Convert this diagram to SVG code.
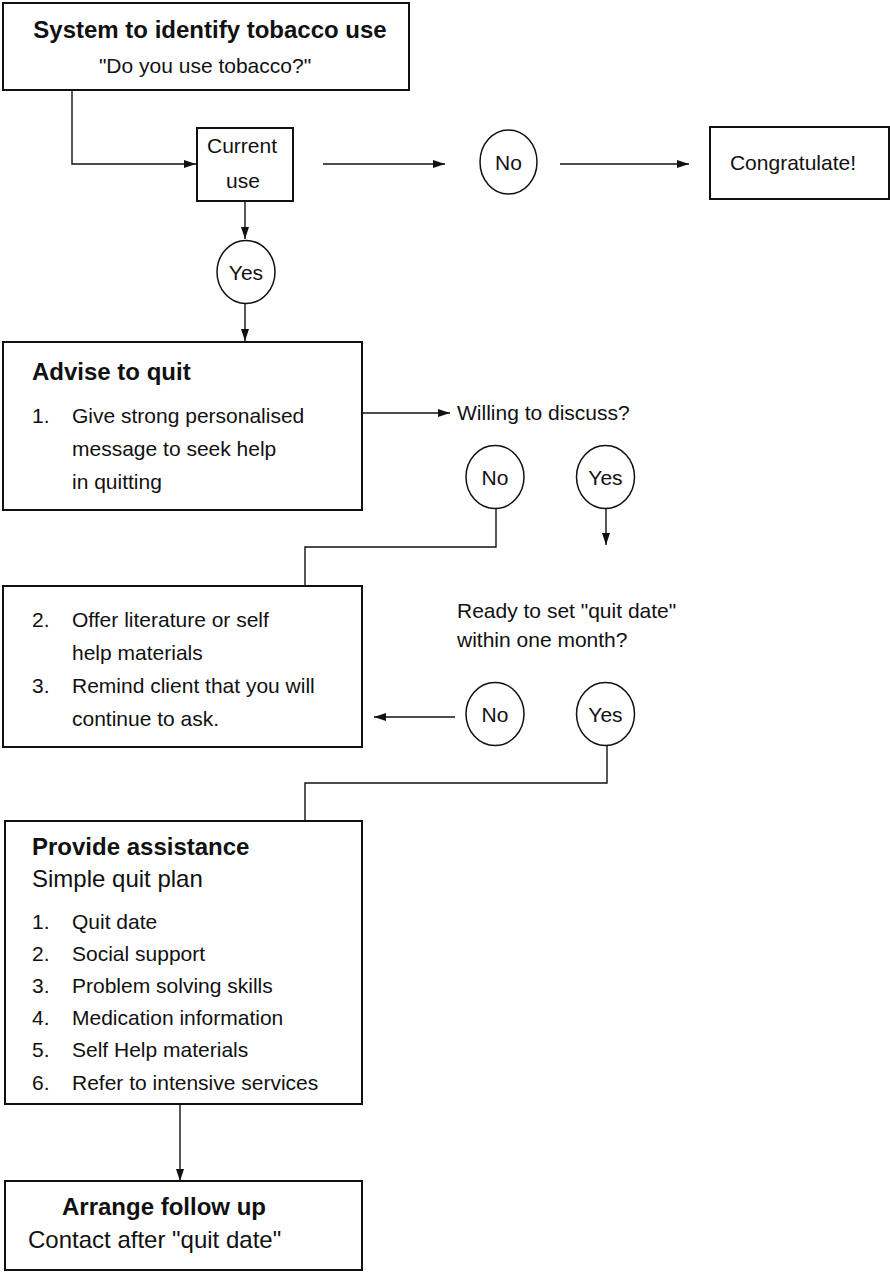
<svg xmlns="http://www.w3.org/2000/svg" width="890" height="1288" viewBox="0 0 890 1288">
<defs>
<style>
text{font-family:"Liberation Sans",Arial,sans-serif;fill:#111}
.b{font-weight:bold;font-size:24px}
.r{font-size:21px}
.l{font-size:24px}
.box{fill:#fff;stroke:#111;stroke-width:2}
.c{fill:#fff;stroke:#111;stroke-width:1.5}
.ln{fill:none;stroke:#111;stroke-width:1.4}
.m{text-anchor:middle}
</style>
<marker id="ah" markerUnits="userSpaceOnUse" markerWidth="13" markerHeight="9" refX="12" refY="4" orient="auto">
<path d="M0,0 L12,4 L0,8 z" fill="#111"/>
</marker>
</defs>
<rect width="890" height="1288" fill="#fff"/>
<g id="connectors">
<polyline class="ln" points="72,90 72,164 196,164" marker-end="url(#ah)"/>
<line class="ln" x1="245" y1="201" x2="245" y2="239" marker-end="url(#ah)"/>
<line class="ln" x1="245" y1="303" x2="245" y2="341" marker-end="url(#ah)"/>
<line class="ln" x1="323" y1="164" x2="445" y2="164" marker-end="url(#ah)"/>
<line class="ln" x1="560" y1="164" x2="689" y2="164" marker-end="url(#ah)"/>
<line class="ln" x1="362" y1="413" x2="450" y2="413" marker-end="url(#ah)"/>
<polyline class="ln" points="496,508 496,547 305,547 305,586"/>
<line class="ln" x1="606" y1="508" x2="606" y2="545" marker-end="url(#ah)"/>
<line class="ln" x1="455" y1="717" x2="374" y2="717" marker-end="url(#ah)"/>
<polyline class="ln" points="607,745 607,783 305,783 305,821"/>
<line class="ln" x1="180" y1="1104" x2="180" y2="1181" marker-end="url(#ah)"/>
</g>
<g id="identify">
<rect class="box" x="3" y="3" width="406" height="87"/>
<text class="b m" x="210" y="38">System to identify tobacco use</text>
<text class="r m" x="205" y="73">"Do you use tobacco?"</text>
</g>
<g id="current-use">
<rect class="box" x="197" y="128" width="96" height="73"/>
<text class="r m" x="242" y="153">Current</text>
<text class="r m" x="243" y="188">use</text>
</g>
<g id="yes1">
<ellipse class="c" cx="246" cy="272" rx="29" ry="31.5"/>
<text class="r m" x="246" y="280">Yes</text>
</g>
<g id="no1">
<ellipse class="c" cx="508.5" cy="162" rx="28.5" ry="32"/>
<text class="r m" x="508.5" y="170">No</text>
</g>
<g id="congratulate">
<rect class="box" x="710" y="127" width="179" height="72"/>
<text class="r m" x="793" y="170">Congratulate!</text>
</g>
<g id="advise">
<rect class="box" x="3" y="342" width="359" height="168"/>
<text class="b" x="32" y="380">Advise to quit</text>
<text class="r" x="32" y="423">1.</text>
<text class="r" x="72" y="423">Give strong personalised</text>
<text class="r" x="72" y="456">message to seek help</text>
<text class="r" x="72" y="489">in quitting</text>
</g>
<g id="willing">
<text class="r" x="457" y="420">Willing to discuss?</text>
</g>
<g id="no2">
<ellipse class="c" cx="495" cy="477" rx="29" ry="31.5"/>
<text class="r m" x="495" y="485">No</text>
</g>
<g id="yes2">
<ellipse class="c" cx="605.5" cy="477" rx="29" ry="31.5"/>
<text class="r m" x="605.5" y="485">Yes</text>
</g>
<g id="literature">
<rect class="box" x="3" y="586" width="359" height="161"/>
<text class="r" x="32" y="627">2.</text>
<text class="r" x="72" y="627">Offer literature or self</text>
<text class="r" x="72" y="660">help materials</text>
<text class="r" x="32" y="693">3.</text>
<text class="r" x="72" y="693">Remind client that you will</text>
<text class="r" x="72" y="726">continue to ask.</text>
</g>
<g id="ready">
<text class="r" x="457" y="618">Ready to set "quit date"</text>
<text class="r" x="457" y="647">within one month?</text>
</g>
<g id="no3">
<ellipse class="c" cx="495" cy="714" rx="29" ry="31.5"/>
<text class="r m" x="495" y="722">No</text>
</g>
<g id="yes3">
<ellipse class="c" cx="605.5" cy="714" rx="29" ry="31.5"/>
<text class="r m" x="605.5" y="722">Yes</text>
</g>
<g id="assistance">
<rect class="box" x="5" y="821" width="357" height="283"/>
<text class="b" x="32" y="855">Provide assistance</text>
<text class="l" x="32" y="887">Simple quit plan</text>
<text class="r" x="32" y="929">1.</text>
<text class="r" x="72" y="929">Quit date</text>
<text class="r" x="32" y="961">2.</text>
<text class="r" x="72" y="961">Social support</text>
<text class="r" x="32" y="993">3.</text>
<text class="r" x="72" y="993">Problem solving skills</text>
<text class="r" x="32" y="1025">4.</text>
<text class="r" x="72" y="1025">Medication information</text>
<text class="r" x="32" y="1057">5.</text>
<text class="r" x="72" y="1057">Self Help materials</text>
<text class="r" x="32" y="1090">6.</text>
<text class="r" x="72" y="1090">Refer to intensive services</text>
</g>
<g id="follow-up">
<rect class="box" x="5" y="1181" width="357" height="89"/>
<text class="b" x="62" y="1215">Arrange follow up</text>
<text class="l" x="28" y="1248">Contact after "quit date"</text>
</g>
</svg>
